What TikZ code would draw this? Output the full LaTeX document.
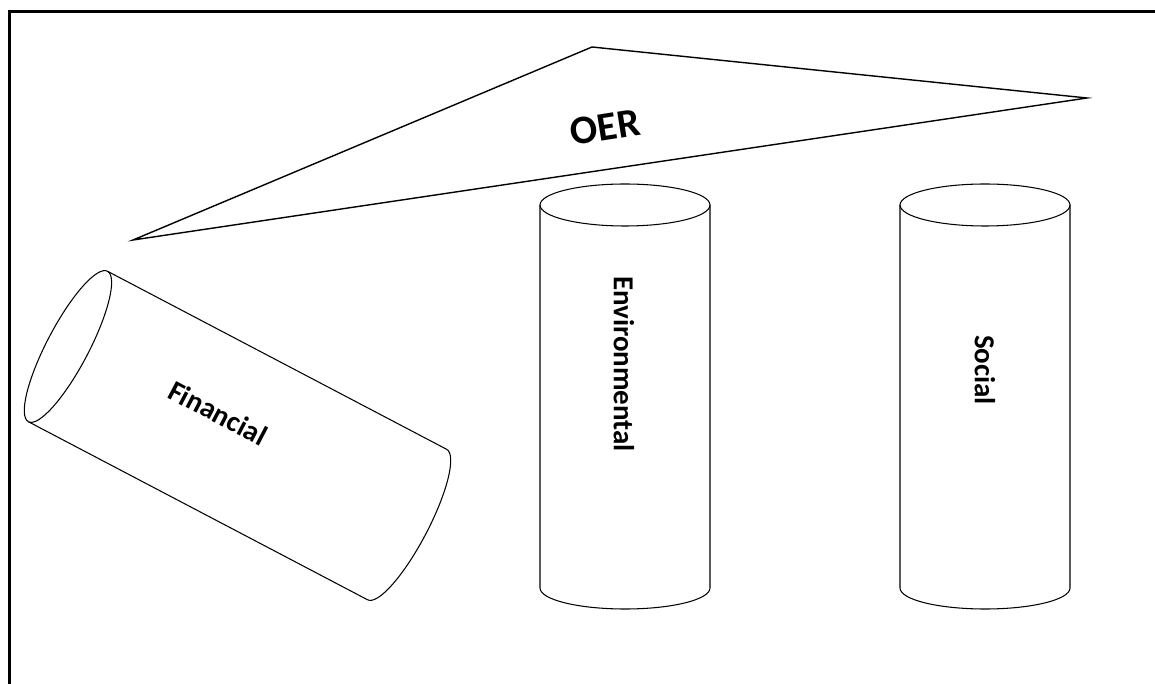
\documentclass[tikz,border=0pt]{standalone}
\usepackage{fontspec}
\setmainfont{Carlito}[BoldFont={Carlito Bold}]
\usetikzlibrary{
  calc,
  positioning,
}
\tikzset{
  line join=round,
  pillar/.pic={
    \draw [line width=0.6pt] (-85,191.5) -- (-85,-191.5)
          arc[start angle=180, end angle=360, x radius=85, y radius=21] -- (85,191.5);
    \draw [line width=0.6pt] (0,191.5) ellipse [x radius=85, y radius=21];
    \coordinate (-mid) at (0,0);
  },
}

\begin{document}
\begin{tikzpicture}[x=0.02cm, y=0.02cm,
                    pillartext/.style={font=\bfseries\fontsize{16.5}{20}\selectfont}]
      \useasboundingbox (0,0) rectangle (1155,683);
      \draw [line width=1.7pt] (9.5,-5) -- (9.5,671.5) -- (1165,671.5);
      % roof
      \coordinate (peak) at (592,636);
      \coordinate (eave) at (1087,585);
      \coordinate (tip) at (133,443);
      \draw [line width=0.8pt] (peak) -- (eave) -- (tip) -- cycle;
      \node [pillartext, font=\bfseries\fontsize{23}{27}\selectfont, rotate=9]
            (oer) at (605,556) {OER};
      % pillars
      \pic (env) at (625,286.5) {pillar};
      \pic (soc) at (985,286.5) {pillar};
      \pic [rotate=62.3] (fin) at (237.5,247.5) {pillar};
      \node [pillartext, rotate=-90] (envtext) at ($(env-mid)+(-1,32.5)$) {Environmental};
      \node [pillartext, rotate=-90] (soctext) at ($(soc-mid)+(0,26.5)$) {Social};
      \node [pillartext, rotate=-27.7] (fintext) at ($(fin-mid)+(-19.5,22.5)$) {Financial};
    \end{tikzpicture}
\end{document}
